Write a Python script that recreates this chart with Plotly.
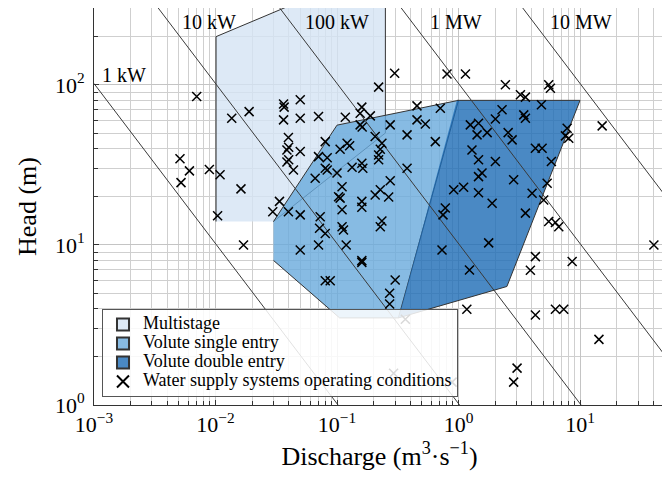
import plotly.graph_objects as go

# ---------------- data ----------------
# Operating conditions of water supply systems (discharge m3/s, head m)
discharge = [
    0.0070, 0.0136, 0.0189, 0.0363, 0.0367, 0.0498, 0.0363, 0.0498, 0.0704,
    0.0051, 0.0061, 0.0052, 0.0089, 0.0109, 0.0162, 0.0398, 0.0387, 0.040, 0.0498, 0.0387, 0.040, 0.0438,
    0.080, 0.0704, 0.083, 0.080, 0.083, 0.0661, 0.0336, 0.0296, 0.0398, 0.0498, 0.0104, 0.0727, 0.0718, 0.080,
    0.0170, 0.0498, 0.0704, 0.080, 0.0879,
    0.117, 0.160, 0.155, 0.188, 0.155, 0.161, 0.274, 0.455, 0.708, 0.455, 0.533, 0.377, 0.644,
    0.206, 0.234, 0.227, 0.220, 0.220, 0.121, 0.127, 0.106, 0.100, 0.133, 0.160, 0.163, 0.377,
    0.274, 0.227, 0.206, 0.266, 0.110, 0.103, 0.106, 0.160, 0.160, 0.110, 0.110, 0.113, 0.234, 0.227,
    0.912, 1.10, 0.778, 0.745, 0.119, 0.160, 0.160, 0.301, 0.271, 0.271, 0.731, 1.23, 1.17,
    0.298, 0.804, 1.14, 0.220,
    2.43, 3.23, 3.55, 5.52, 5.70, 2.28, 3.44, 3.55, 4.81, 2.01, 1.25, 1.46, 1.42, 1.72, 2.56, 2.76,
    7.83, 7.58, 8.07, 15.2, 1.29, 1.46, 2.01, 4.29, 4.87, 5.81, 1.56, 1.46, 2.84, 1.46, 4.03, 5.36,
    5.02, 1.89, 3.55, 5.52, 6.27, 6.68, 1.77, 4.29, 3.90, 8.61, 40.5, 4.29, 6.27, 7.34, 14.3,
    3.03, 2.84, 0.884, 0.292, 0.365,
]
head = [
    84.5, 61.9, 68, 76, 72.6, 80.6, 60.4, 61.9, 63.4,
    34.5, 29.0, 24.5, 29.6, 27.4, 22.4, 46.9, 39.2, 40.7, 38.3, 33.0, 34.0, 29.4,
    44.2, 35.6, 35.0, 30.1, 29.4, 26.1, 18.7, 16.1, 16.1, 15.4, 15.2, 15.0, 12.7, 11.8,
    10.0, 9.3, 10.0, 5.98, 5.98,
    62.8, 72.6, 66.5, 64.0, 56.2, 54.6, 56.2, 73.9, 71.5, 60.4, 57.0, 48.7, 44.2,
    47.5, 43.2, 39.6, 36.5, 34.0, 43.2, 41.6, 39.6, 28.1, 30.6, 32.4, 30.1, 30.1,
    25.2, 22.1, 20.5, 19.9, 23.1, 20.0, 19.6, 18.7, 17.2, 16.6, 13.0, 12.4, 14.1, 13.0,
    22.1, 22.9, 17.0, 15.4, 10.0, 7.98, 7.78, 6.04, 4.99, 4.28, 9.3, 6.98, 3.96,
    118, 117, 117, 96.8,
    100, 86.6, 83.8, 100, 95.3, 69.8, 64.9, 61.9, 75.0, 61.1, 56.2, 57.6, 48.7, 50.3, 50.3, 45.3,
    53.6, 48.0, 46.4, 55.4, 39.2, 34.0, 33.2, 40.2, 40.2, 33.2, 28.1, 26.7, 25.5, 21.2, 21.0, 24.3,
    19.1, 18.2, 15.8, 14.0, 13.8, 13.0, 10.3, 8.45, 6.95, 7.87, 10.0, 3.65, 3.96, 3.96, 2.57,
    1.70, 1.39, 1.39, 1.58, 3.43,
]

# Pump application regions (polygon vertices: discharge, head)
multistage_q = [0.0101, 0.0101, 0.044, 0.25, 0.25, 0.030]
multistage_h = [14, 200, 320, 320, 50, 14]
single_q = [0.030, 0.10, 1.0, 0.32, 0.105, 0.030]
single_h = [14, 56, 80, 3.5, 3.5, 8]
double_q = [0.97, 10, 2.5, 0.32]
double_h = [80, 80, 5.5, 3.5]

region_names = ["Multistage", "Volute single entry", "Volute double entry"]
region_fill = ["rgba(213,228,244,0.8)", "rgba(105,170,220,0.8)", "rgba(29,107,181,0.8)"]
region_patch = ["#dde9f6", "#87bbe3", "#4a89c4"]

# Iso-power lines (kW) and their labels
power_kw = [1, 10, 100, 1000, 10000]
power_labels = ["1 kW", "10 kW", "100 kW", "1 MW", "10 MW"]
q_span = [1e-3, 50]  # discharge extent of the axis
rho_g = 9.81  # kN/m3

x_ticks = [1e-3, 1e-2, 1e-1, 1, 10]
x_ticktext = ["10<sup>\u22123</sup>", "10<sup>\u22122</sup>", "10<sup>\u22121</sup>",
              "10<sup>0</sup>", "10<sup>1</sup>"]
y_ticks = [1, 10, 100]
y_ticktext = ["10<sup>0</sup>", "10<sup>1</sup>", "10<sup>2</sup>"]

# ---------------- figure ----------------
FONT = "Liberation Serif, Times New Roman, serif"
edge = "#333333"
leg = lambda s: '<span style="font-size:18px">' + s + "</span>"

fig = go.Figure()
polys = [(multistage_q, multistage_h), (single_q, single_h), (double_q, double_h)]
for (qq, hh), nm, fc in zip(polys, region_names, region_fill):
    fig.add_trace(go.Scatter(x=qq, y=hh, fill="toself", mode="lines", fillcolor=fc,
                             line=dict(color=edge, width=1), name=nm, legendgroup=nm,
                             showlegend=False, hoverinfo="skip"))

for p in power_kw:
    fig.add_trace(go.Scatter(x=q_span, y=[p / (rho_g * q) for q in q_span], mode="lines",
                             line=dict(color="#3a3a3a", width=1), showlegend=False,
                             hoverinfo="skip"))

fig.add_trace(go.Scatter(x=discharge, y=head, mode="markers",
                         marker=dict(symbol="x-thin-open", size=9, color="black",
                                     line=dict(color="black", width=1.5)),
                         name=leg("Water supply systems operating conditions"),
                         legendrank=4))

# legend patches for the regions
for i, (nm, pc) in enumerate(zip(region_names, region_patch)):
    fig.add_trace(go.Scatter(x=[None], y=[None], mode="markers", legendgroup=nm,
                             marker=dict(symbol="square", size=11, color=pc,
                                         line=dict(color=edge, width=1)),
                             name=leg(nm), legendrank=i + 1))

# labels for the iso-power lines (positions in log10 axis units)
label_pos = [(-2.95, 2.06), (-2.29, 2.39), (-1.28, 2.39), (-0.25, 2.39), (0.74, 2.39)]
for txt, (lx, ly) in zip(power_labels, label_pos):
    fig.add_annotation(x=lx, y=ly, xref="x", yref="y", text=txt, showarrow=False,
                       xanchor="left", yanchor="middle",
                       font=dict(family=FONT, size=20, color="black"))

axis_common = dict(
    type="log", showline=True, mirror=True, linecolor=edge, linewidth=1,
    ticks="inside", ticklen=5, tickcolor=edge, showgrid=True, gridcolor="#c4c4c4",
    gridwidth=1, zeroline=False, automargin=False,
    tickfont=dict(family=FONT, size=22, color="black"),
    minor=dict(dtick="D1", ticks="inside", ticklen=4, tickcolor=edge,
               showgrid=True, gridcolor="#cfcfcf", gridwidth=1),
)
fig.update_xaxes(**axis_common, range=[-3, 1.699], tickmode="array",
                 tickvals=x_ticks, ticktext=x_ticktext,
                 title=dict(text="Discharge (m<sup>3</sup>\u00b7s<sup>\u22121</sup>)",
                            font=dict(family=FONT, size=26, color="black"), standoff=10))
fig.update_yaxes(**axis_common, range=[0, 2.48], tickmode="array",
                 tickvals=y_ticks, ticktext=y_ticktext, ticklabelstandoff=4,
                 title=dict(text="Head (m)", font=dict(family=FONT, size=26, color="black"),
                            standoff=10))

# The page body has an 8 px default margin, so the figure is sized to fill
# the 670x483 window from that offset.
fig.update_layout(
    width=662, height=475, margin=dict(l=86, r=5, t=0, b=78),
    paper_bgcolor="white", plot_bgcolor="white",
    font=dict(family=FONT, color="black"),
    legend=dict(x=0.014, y=0.02, xanchor="left", yanchor="bottom",
                bgcolor="rgba(255,255,255,0.85)", bordercolor="#555555", borderwidth=1,
                font=dict(family=FONT, size=12, color="black"), tracegroupgap=0,
                itemsizing="constant"),
    showlegend=True,
)

fig.write_html("out.html")
